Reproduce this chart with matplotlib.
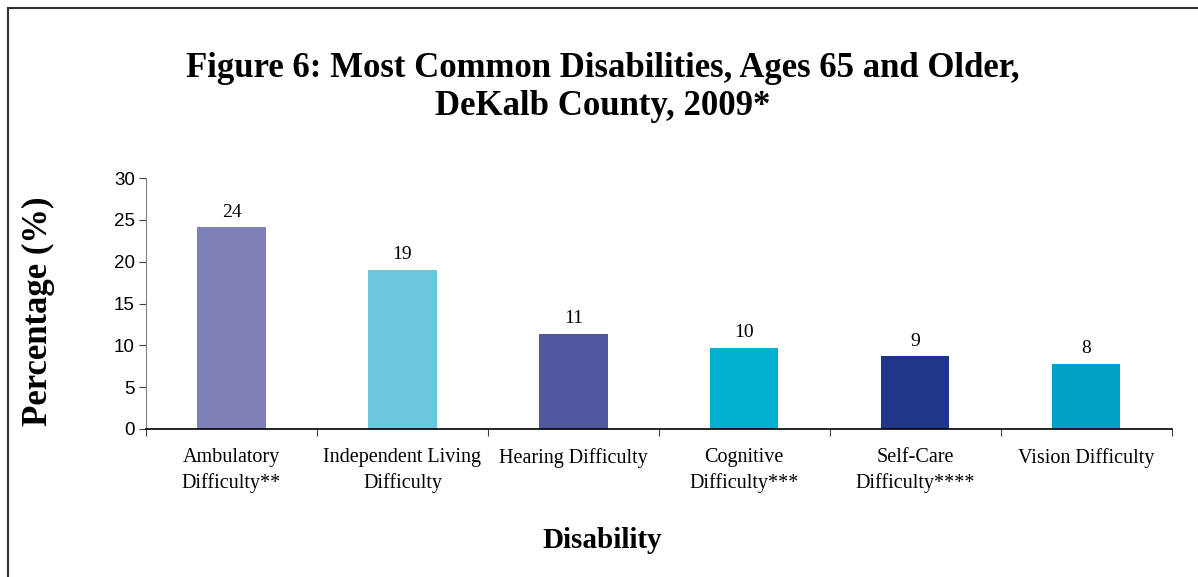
"""Figure 6: most common disabilities, ages 65 and older, DeKalb County 2009."""

import matplotlib

matplotlib.use("Agg")
import matplotlib.pyplot as plt
from matplotlib.lines import Line2D

categories = [
    "Ambulatory\nDifficulty**",
    "Independent Living\nDifficulty",
    "Hearing Difficulty",
    "Cognitive\nDifficulty***",
    "Self-Care\nDifficulty****",
    "Vision Difficulty",
]
values = [24.1, 19.0, 11.35, 9.7, 8.7, 7.8]
value_labels = ["24", "19", "11", "10", "9", "8"]
bar_colors = ["#8080b8", "#6cc6de", "#5059a0", "#02b1cf", "#20368a", "#01a1c5"]
yticks = [0, 5, 10, 15, 20, 25, 30]

SERIF = "Liberation Serif"
SANS = "Liberation Sans"

fig = plt.figure(figsize=(11.98, 5.77), dpi=100)
ax = fig.add_axes([0.1219, 0.2565, 0.8561, 0.435])

x = list(range(len(categories)))
ax.bar(x, values, width=0.4, color=bar_colors, zorder=1)
for xi, v, lab in zip(x, values, value_labels):
    ax.text(xi, v + 0.8, lab, ha="center", va="bottom", fontsize=14, family=SERIF)

ax.set_xlim(-0.5, len(categories) - 0.5)
ax.set_ylim(0, 30)
ax.set_yticks(yticks)
ax.set_yticklabels([str(t) for t in yticks], family=SANS, fontsize=13.5)
ax.set_xticks([i - 0.5 for i in range(len(categories) + 1)])
ax.set_xticklabels([])
ax.set_xticks(x, minor=True)
ax.set_xticklabels(categories, minor=True, family=SERIF, fontsize=14.5, linespacing=1.4, va="top")
ax.tick_params(axis="x", which="minor", length=0, pad=14)
ax.tick_params(axis="x", which="major", length=5, direction="out", color="#404040")
ax.tick_params(axis="y", length=5, direction="out", color="#404040", pad=3)

for side in ("top", "right"):
    ax.spines[side].set_visible(False)
ax.spines["left"].set_color("#808080")
ax.spines["bottom"].set_color("black")
ax.spines["bottom"].set_linewidth(1.2)
ax.spines["bottom"].set_zorder(3)

fig.text(0.032, 0.461, "Percentage (%)", rotation=90, ha="center", va="center", family=SERIF,
         fontsize=25, fontweight="bold")
fig.text(0.503, 0.064, "Disability", ha="center", va="center", family=SERIF,
         fontsize=21, fontweight="bold")

fig.text(0.503, 0.848, "Figure 6: Most Common Disabilities, Ages 65 and Older,\nDeKalb County, 2009*",
         ha="center", va="center", family=SERIF, fontsize=25, fontweight="bold", linespacing=1.2)

# frame around the figure (top and left edges visible)
fig.add_artist(Line2D([0.007, 1.0], [0.987, 0.987], transform=fig.transFigure, color="#303030", lw=1.5))
fig.add_artist(Line2D([0.007, 0.007], [0.0, 0.987], transform=fig.transFigure, color="#303030", lw=1.5))

fig.savefig("out.png", dpi=100)
